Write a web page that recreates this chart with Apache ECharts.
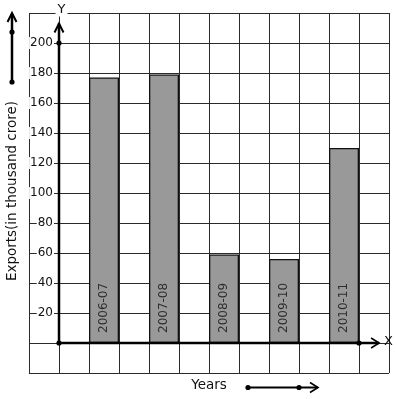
<!DOCTYPE html>
<html>
<head>
<meta charset="utf-8">
<script src="https://cdn.jsdelivr.net/npm/echarts@6/dist/echarts.min.js"></script>
<style>
  html, body { margin: 0; padding: 0; background: #fff; }
  #main { width: 397px; height: 399px; }
</style>
</head>
<body>
<div id="main"></div>
<script>
// data
var years = ['2006-07', '2007-08', '2008-09', '2009-10', '2010-11'];
var exportValues = [177, 179, 59, 56, 130];
var yTickLabels = [20, 40, 60, 80, 100, 120, 140, 160, 180, 200];

var FONT = 'DejaVu Sans';
var INK = '#111';

var chart = echarts.init(document.getElementById('main'), null, { renderer: 'canvas' });

chart.setOption({
  animation: false,
  backgroundColor: '#fff',
  textStyle: { fontFamily: FONT },
  grid: [
    // graph paper
    { left: 29, top: 13, width: 360, height: 360, outerBoundsMode: 'none' },
    // bars
    { left: 74, top: 13, width: 300, height: 360, outerBoundsMode: 'none' }
  ],
  xAxis: [
    {
      type: 'value', gridIndex: 0, min: -1, max: 11, interval: 1,
      axisLine: { show: false }, axisTick: { show: false }, axisLabel: { show: false },
      splitLine: { show: true, lineStyle: { color: '#2a2a2a', width: 1 } }
    },
    {
      type: 'category', gridIndex: 1, data: years,
      axisLine: { show: false }, axisTick: { show: false }, axisLabel: { show: false },
      splitLine: { show: false }
    }
  ],
  yAxis: [
    {
      type: 'value', gridIndex: 0, min: -20, max: 220, interval: 20,
      position: 'left', offset: -30,
      axisLine: { show: false, onZero: false }, axisTick: { show: false },
      axisLabel: {
        show: true, color: INK, fontSize: 12, fontFamily: FONT, margin: 5,
        backgroundColor: '#fff', padding: [0, 1, 0, 1],
        formatter: function (v) { return yTickLabels.indexOf(v) >= 0 ? String(v) : ''; }
      },
      splitLine: { show: true, lineStyle: { color: '#2a2a2a', width: 1 } }
    },
    {
      type: 'value', gridIndex: 1, min: -20, max: 220, interval: 20,
      axisLine: { show: false }, axisTick: { show: false }, axisLabel: { show: false },
      splitLine: { show: false }
    }
  ],
  series: [
    {
      type: 'bar',
      xAxisIndex: 1,
      yAxisIndex: 1,
      data: exportValues,
      barWidth: 30,
      itemStyle: { color: '#999999', borderColor: '#111', borderWidth: 1.3 },
      label: {
        show: true,
        position: 'insideBottom',
        distance: 10,
        rotate: 90,
        align: 'left',
        verticalAlign: 'middle',
        formatter: '{b}',
        color: '#2e2e2e',
        textBorderWidth: 0,
        textBorderColor: 'transparent',
        fontSize: 12,
        fontFamily: FONT
      },
      z: 3
    }
  ]
});

// axes with arrows, dots and names, placed from the paper's own scale
var px = function (x, y) { return chart.convertToPixel({ xAxisIndex: 0, yAxisIndex: 0 }, [x, y]); };
var origin = px(0, 0);
var y200 = px(0, 200);
var yTip = px(0, 213);
var x10 = px(10, 0);
var xTip = px(10.67, 0);
var topLeft = px(0, 220);
var rightEnd = px(11, 0);

function line(p1, p2, w) {
  return { type: 'line', z: 100, shape: { x1: p1[0], y1: p1[1], x2: p2[0], y2: p2[1] },
    style: { stroke: '#000', lineWidth: w || 2.5 } };
}
function dot(p) {
  return { type: 'circle', z: 101, shape: { cx: p[0], cy: p[1], r: 2.6 }, style: { fill: '#000' } };
}
function chevUp(p) {
  return { type: 'polyline', z: 101, shape: { points: [[p[0] - 4.5, p[1] + 9], [p[0], p[1]], [p[0] + 4.5, p[1] + 9]] },
    style: { stroke: '#000', lineWidth: 2, fill: null } };
}
function chevRight(p) {
  return { type: 'polyline', z: 101, shape: { points: [[p[0] - 8, p[1] - 5], [p[0], p[1]], [p[0] - 8, p[1] + 5]] },
    style: { stroke: '#000', lineWidth: 1.6, fill: null } };
}
function label(txt, x, y, size, rot, bg) {
  return { type: 'text', z: 102, x: x, y: y, rotation: rot || 0,
    style: { text: txt, font: size + 'px "' + FONT + '"', fill: INK, align: 'center', verticalAlign: 'middle',
      backgroundColor: bg || null, padding: bg ? [0, 2, 0, 2] : 0 } };
}

chart.setOption({
  graphic: [
    // Y axis
    line(origin, yTip, 2.5),
    chevUp(yTip),
    dot(origin),
    dot(y200),
    label('Y', topLeft[0] + 2.5, topLeft[1] - 3, 13, 0, '#fff'),
    // X axis
    line(origin, xTip, 2.5),
    chevRight(xTip),
    dot(x10),
    label('X', rightEnd[0] - 0.5, rightEnd[1] - 1, 13, 0, null),
    // y title with its arrow
    label('Exports(in thousand crore)', 12, 191, 13.5, Math.PI / 2, null),
    line([12, 82], [12, 14], 2.5),
    chevUp([12, 13]),
    dot([12, 32]),
    dot([12, 82]),
    // x title with its arrow
    label('Years', 209, 385, 13.5, 0, null),
    line([248, 387.5], [318, 387.5], 1.8),
    chevRight([318, 387.5]),
    dot([248, 387.5]),
    dot([299, 387.5])
  ]
});
</script>
</body>
</html>
